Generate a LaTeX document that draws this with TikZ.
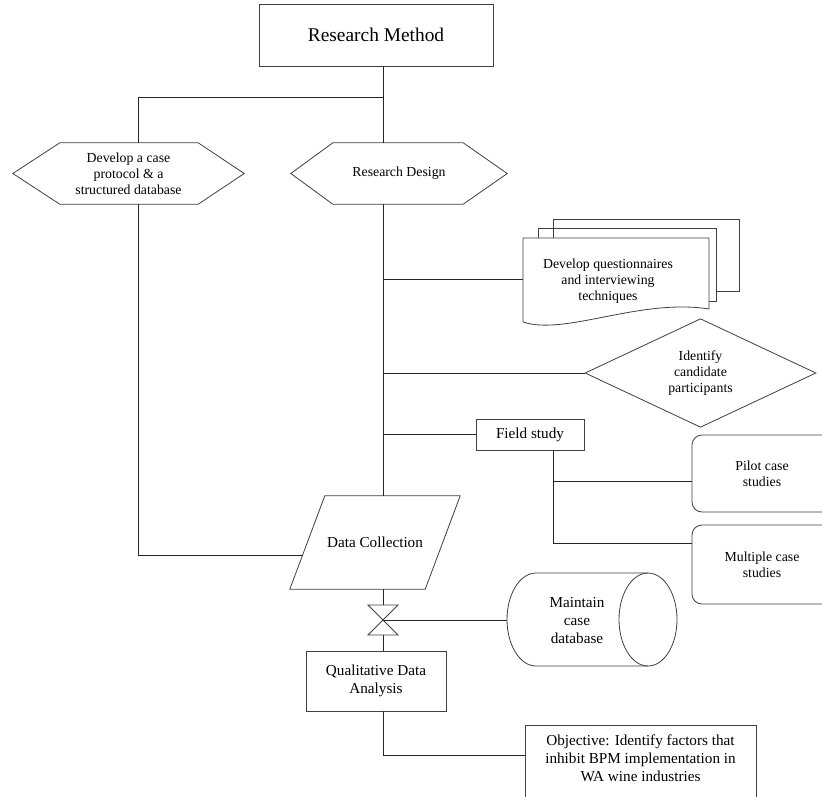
\documentclass[tikz,border=0pt]{standalone}
\usepackage{fontspec}
\setmainfont{Liberation Serif}
\usetikzlibrary{shapes.geometric}
\begin{document}
\begin{tikzpicture}[x=1pt,y=-1pt,
  line/.style={draw=black!85, line width=0.8pt},
  shp/.style={draw=black!75, line width=0.8pt},
  txtA/.style={font=\fontsize{13.8}{15.8}\selectfont, align=center, inner sep=0pt},
  txtB/.style={font=\fontsize{15.2}{18}\selectfont, align=center, inner sep=0pt},
  box/.style={shp, rectangle, inner sep=0pt},
  rbox/.style={shp, rectangle, rounded corners=10pt, inner sep=0pt},
]
\fill[white] (0,0) rectangle (822,796);
\clip (0,0) rectangle (822,796);

% Research Method
\node[box, font=\fontsize{19.4}{22}\selectfont, minimum width=234, minimum height=62] (rm) at (376,35) {Research Method};

% hexagons
\node[txtA, minimum width=231, minimum height=61] (dcp) at (128.5,173.5) {Develop a case\\protocol \& a\\structured database};
\draw[shp] (dcp.west) -- ([xshift=47pt]dcp.north west) -- ([xshift=-46pt]dcp.north east) -- (dcp.east)
  -- ([xshift=-46pt]dcp.south east) -- ([xshift=47pt]dcp.south west) -- cycle;
\node[txtA, minimum width=216, minimum height=61] (rd) at (399,173.5) {Research Design};
\draw[shp] (rd.west) -- ([xshift=42pt]rd.north west) -- ([xshift=-44pt]rd.north east) -- (rd.east)
  -- ([xshift=-44pt]rd.south east) -- ([xshift=42pt]rd.south west) -- cycle;

% documents
\draw[shp] (553,238) -- (553,219) -- (739,219) -- (739,291) -- (716,291);
\draw[shp] (538,238) -- (538,228) -- (716,228) -- (716,301) -- (709,301);
\draw[shp, fill=white] (523,322) -- (523,238) -- (709,238) -- (709,309)
  .. controls (640,298) and (565,336) .. (523,322);
\node[txtA] (doc) at (608,281) {Develop questionnaires\\and interviewing\\techniques};
\coordinate (docw) at (523,279);

% diamond
\node[shp, diamond, txtA, minimum width=231, minimum height=92] (id) at (700.5,373) {Identify\\candidate\\participants};

% field study
\node[box, txtB, minimum width=108, minimum height=31] (fs) at (530,434.5) {Field study};
\coordinate (fsx) at (553,450);

% pilot / multiple
\node[rbox, txtA, minimum width=140, minimum height=77] (pc) at (762,473.5) {Pilot case\\studies};
\node[rbox, txtA, minimum width=140, minimum height=79] (mc) at (762,564.5) {Multiple case\\studies};

% data collection
\node[txtB, minimum width=135, minimum height=93] (dc) at (375,542.5) {Data Collection};
\draw[shp] ([xshift=17.5pt]dc.north west) -- ([xshift=17.5pt]dc.north east)
  -- ([xshift=-17.5pt]dc.south east) -- ([xshift=-17.5pt]dc.south west) -- cycle;
\coordinate (dcl) at (302.8,555);

% valve
\coordinate (vt) at (383,605);
\coordinate (vc) at (383,620);
\coordinate (vb) at (383,635);
\draw[shp] (368,605) -- (398,605) -- (vc) -- cycle;
\draw[shp] (368,635) -- (398,635) -- (vc) -- cycle;

% cylinder
\draw[shp] (648,573) -- (536,573) arc[start angle=90, end angle=270, x radius=29pt, y radius=46.5pt] -- (648,666);
\draw[shp] (648,619.5) ellipse [x radius=29pt, y radius=46.5pt];
\node[txtB] (cyl) at (577,621) {Maintain\\case\\database};
\coordinate (cyw) at (507,620);

% qualitative analysis
\node[box, txtB, minimum width=140, minimum height=60] (qa) at (376,681) {Qualitative Data\\Analysis};

% objective
\draw[shp] (525,830) -- (525,725) -- (756,725) -- (756,830);
\node[txtB] (ob) at (640.5,758) {Objective: Identify factors that\\inhibit BPM implementation in\\WA wine industries};
\coordinate (obw) at (525,755);

% spine connectors
\coordinate (sp) at (383,97);
\coordinate (lp) at (138,97);
\draw[line] (rm.south -| sp) -- (rd.north -| sp);
\draw[line] (lp |- dcp.north) -- (lp) -- (sp);
\draw[line] (rd.south -| sp) -- (dc.north -| sp);
\draw[line] (dcp.south -| lp) -- (lp |- dcl) -- (dcl);
\draw[line] (sp |- docw) -- (docw);
\draw[line] (sp |- id.west) -- (id.west);
\draw[line] (sp |- fs.west) -- (fs.west);
\draw[line] (fsx) -- (fsx |- 0,543) -- (mc.west |- 0,543);
\draw[line] (fsx |- 0,481) -- (pc.west |- 0,481);
\draw[line] (dc.south -| sp) -- (vt);
\draw[line] (vc) -- (cyw);
\draw[line] (vb) -- (qa.north -| sp);
\draw[line] (qa.south -| sp) -- (sp |- obw) -- (obw);
\end{tikzpicture}
\end{document}
